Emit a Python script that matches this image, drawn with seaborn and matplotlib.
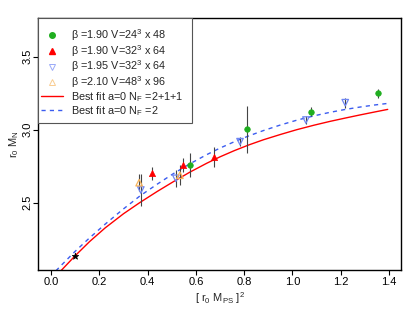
import matplotlib
matplotlib.use("Agg")
import matplotlib.pyplot as plt
import seaborn as sns
import pandas as pd
import numpy as np
from matplotlib.lines import Line2D
from matplotlib.patches import Rectangle

sns.set_theme(style="white")
plt.rcParams['font.family'] = ['Liberation Sans', 'DejaVu Sans']
plt.rcParams['mathtext.fontset'] = 'custom'
plt.rcParams['mathtext.rm'] = 'Liberation Sans'
plt.rcParams['mathtext.it'] = 'Liberation Sans'

# ---- data ----
# beta=1.90, V=24^3x48 (green circles)
g_x = [0.576, 0.813, 1.076, 1.353]
g_y = [2.758, 3.003, 3.123, 3.249]
g_e = [0.082, 0.160, 0.032, 0.031]
# beta=1.90, V=32^3x64 (red triangles up)
r_x = [0.418, 0.545, 0.677]
r_y = [2.701, 2.758, 2.811]
r_e = [0.043, 0.046, 0.068]
# beta=1.95, V=32^3x64 (blue open triangles down)
b_x = [0.372, 0.517, 0.783, 1.056, 1.219]
b_y = [2.587, 2.667, 2.918, 3.066, 3.185]
b_e = [0.110, 0.060, 0.030, 0.030, 0.034]
# beta=2.10, V=48^3x96 (orange open triangles up)
o_x = [0.365, 0.534]
o_y = [2.637, 2.688]
o_e = [0.060, 0.070]
# physical point
p_x = [0.099]
p_y = [2.137]
p_e = [0.012]

# fit curves
fit1_x = [0.040, 0.099, 0.160, 0.224, 0.300, 0.369, 0.440, 0.507, 0.575, 0.645, 0.700,
          0.760, 0.820, 0.880, 0.950, 1.018, 1.090, 1.156, 1.220, 1.280, 1.340, 1.395]
fit1_y = [2.032, 2.135, 2.234, 2.327, 2.424, 2.502, 2.577, 2.644, 2.709, 2.770, 2.814,
          2.857, 2.896, 2.931, 2.967, 3.000, 3.031, 3.057, 3.080, 3.101, 3.121, 3.139]
fit2_x = [0.020, 0.037, 0.100, 0.155, 0.225, 0.293, 0.369, 0.440, 0.507, 0.575, 0.645, 0.700,
          0.760, 0.820, 0.880, 0.950, 1.018, 1.090, 1.156, 1.220, 1.280, 1.340, 1.395]
fit2_y = [2.033, 2.062, 2.167, 2.252, 2.354, 2.448, 2.547, 2.627, 2.699, 2.766, 2.829, 2.874,
          2.918, 2.958, 2.994, 3.032, 3.065, 3.095, 3.119, 3.139, 3.155, 3.169, 3.180]

labels = [r'$\beta$ =1.90 V=24$^3$ x 48',
          r'$\beta$ =1.90 V=32$^3$ x 64',
          r'$\beta$ =1.95 V=32$^3$ x 64',
          r'$\beta$ =2.10 V=48$^3$ x 96',
          r'Best fit a=0 N$_\mathregular{F}$ =2+1+1',
          r'Best fit a=0 N$_\mathregular{F}$ =2']

c_green = '#1fae1f'
c_red = '#ff0000'
c_blue = '#6f86f2'
c_orange = '#f7b45a'
c_line_blue = '#3b5cf0'

W, H = 415, 321
fig = plt.figure(figsize=(W/100, H/100), dpi=100)
ax = fig.add_axes([38/W, 1-270/H, 363/W, 252/H])

# curves
sns.lineplot(x=fit1_x, y=fit1_y, ax=ax, color=c_red, lw=1.0, sort=False, estimator=None)
sns.lineplot(x=fit2_x, y=fit2_y, ax=ax, color=c_line_blue, lw=1.0, sort=False,
             estimator=None, linestyle=(0, (3, 3)))

# error bars
for xs, ys, es in [(g_x, g_y, g_e), (r_x, r_y, r_e), (b_x, b_y, b_e), (o_x, o_y, o_e), (p_x, p_y, p_e)]:
    ax.errorbar(xs, ys, yerr=es, fmt='none', ecolor='#444444', elinewidth=0.8, capsize=0, zorder=3)

# markers
sns.scatterplot(x=g_x, y=g_y, ax=ax, marker='o', s=16, color=c_green, edgecolor=c_green, linewidth=0.5, zorder=4)
sns.scatterplot(x=r_x, y=r_y, ax=ax, marker='^', s=20, color=c_red, edgecolor=c_red, linewidth=0.5, zorder=4)
sns.scatterplot(x=b_x, y=b_y, ax=ax, marker='v', s=22, facecolor='none', edgecolor=c_blue, linewidth=0.9, zorder=4)
sns.scatterplot(x=o_x, y=o_y, ax=ax, marker='^', s=22, facecolor='none', edgecolor=c_orange, linewidth=0.9, zorder=4)
sns.scatterplot(x=p_x, y=p_y, ax=ax, marker='*', s=24, color='black', edgecolor='black', linewidth=0.5, zorder=5)

ax.set_xlim(-0.054, 1.45)
ax.set_ylim(2.039, 3.765)
ax.set_xticks([0.0, 0.2, 0.4, 0.6, 0.8, 1.0, 1.2, 1.4])
ax.set_xticklabels(['0.0', '0.2', '0.4', '0.6', '0.8', '1.0', '1.2', '1.4'])
ax.set_yticks([2.5, 3.0, 3.5])
ax.set_yticklabels(['2.5', '3.0', '3.5'], rotation=90, va='center')
ax.tick_params(axis='both', direction='out', length=3.5, width=0.8, labelsize=8, color='black',
               labelcolor='black', pad=1.5, bottom=True, left=True)
ax.tick_params(axis='y', pad=0.5)
for s in ax.spines.values():
    s.set_color('black')
    s.set_linewidth(1.0)

ax.set_xlabel(r'[ r$_0$ M$_\mathregular{PS}$ ]$^2$', fontsize=8, labelpad=2)
ax.set_ylabel(r'r$_0$ M$_\mathregular{N}$', fontsize=8, labelpad=1)

# legend frame drawn manually (pixel box 38..192 x 18..123)
rect = Rectangle((38/W, 1-123/H), 154/W, 105/H, transform=fig.transFigure,
                 facecolor='white', edgecolor='#555555', linewidth=0.8, zorder=9)
ax.add_artist(rect)
rect.set_clip_on(False)

handles = [
    Line2D([], [], marker='o', ls='none', color=c_green, markersize=4),
    Line2D([], [], marker='^', ls='none', color=c_red, markersize=4.5),
    Line2D([], [], marker='v', ls='none', markerfacecolor='none', markeredgecolor='#9aaaf8', markersize=5, markeredgewidth=0.7),
    Line2D([], [], marker='^', ls='none', markerfacecolor='none', markeredgecolor='#f9cc90', markersize=5, markeredgewidth=0.7),
    Line2D([], [], color=c_red, lw=1.0),
    Line2D([], [], color=c_line_blue, lw=1.0, ls=(0, (3, 3))),
]
leg = ax.legend(handles, labels, loc='upper left', bbox_to_anchor=(41/W, 1-27/H),
                bbox_transform=fig.transFigure, borderaxespad=0,
                fontsize=7.8, frameon=False, handlelength=2.0, handletextpad=0.8,
                labelspacing=0.0, borderpad=0)
leg.set_zorder(10)

fig.savefig('out.png', dpi=100)
